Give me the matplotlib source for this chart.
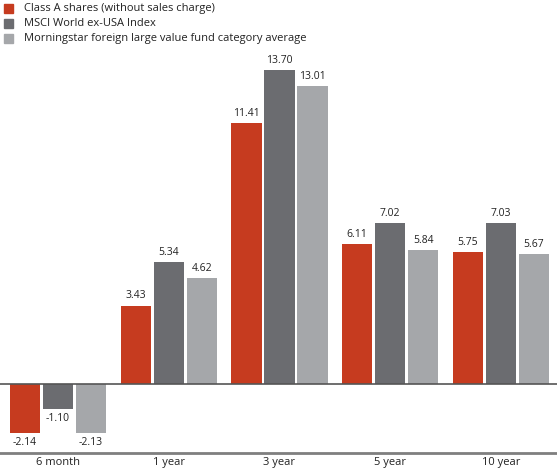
import matplotlib.pyplot as plt
import numpy as np
from matplotlib.patches import Rectangle

plt.rcParams['font.family'] = ['Open Sans', 'DejaVu Sans']

periods = ['6 month', '1 year', '3 year', '5 year', '10 year']
series_names = ['Class A shares (without sales charge)',
                'MSCI World ex-USA Index',
                'Morningstar foreign large value fund category average']
class_a = [-2.14, 3.43, 11.41, 6.11, 5.75]
msci = [-1.10, 5.34, 13.70, 7.02, 7.03]
morningstar = [-2.13, 4.62, 13.01, 5.84, 5.67]
colors = ['#C63B1F', '#6B6C70', '#A5A7AA']

fig = plt.figure(figsize=(5.57, 4.73), dpi=100)
ax = fig.add_axes([0, 20 / 473, 1, 453 / 473])

x = np.arange(len(periods))
width = 0.271
step = 0.298
for i, (vals, c) in enumerate(zip([class_a, msci, morningstar], colors)):
    pos = x + (i - 1) * step
    ax.bar(pos, vals, width=width, color=c, zorder=2)
    for p, v in zip(pos, vals):
        ax.annotate(f'{v:.2f}', (p, v), xytext=(0, 3 if v >= 0 else -3),
                    textcoords='offset points', ha='center',
                    va='bottom' if v >= 0 else 'top', fontsize=7.5, color='#222222')

ax.axhline(0, color='#555555', lw=1.2, zorder=3)
ax.set_xlim(-0.524, 4.506)
ax.set_ylim(-3.01, 16.77)
for s in ['top', 'left', 'right']:
    ax.spines[s].set_visible(False)
ax.spines['bottom'].set_color('#7f7f7f')
ax.spines['bottom'].set_linewidth(2)
ax.set_yticks([])
ax.set_xticks(x)
ax.set_xticklabels(periods, fontsize=8)
ax.tick_params(axis='x', length=0, pad=3, colors='#222222')

# legend drawn by hand in figure pixels
for i, (name, c) in enumerate(zip(series_names, colors)):
    ytop = 4 + i * 15
    fig.patches.append(Rectangle((4 / 557, 1 - (ytop + 9) / 473), 9 / 557, 9 / 473,
                                 transform=fig.transFigure, color=c))
    fig.text(24 / 557, 1 - (ytop + 4.5) / 473, name, fontsize=8, va='center',
             color='#222222')

fig.savefig('out.png', dpi=100)
